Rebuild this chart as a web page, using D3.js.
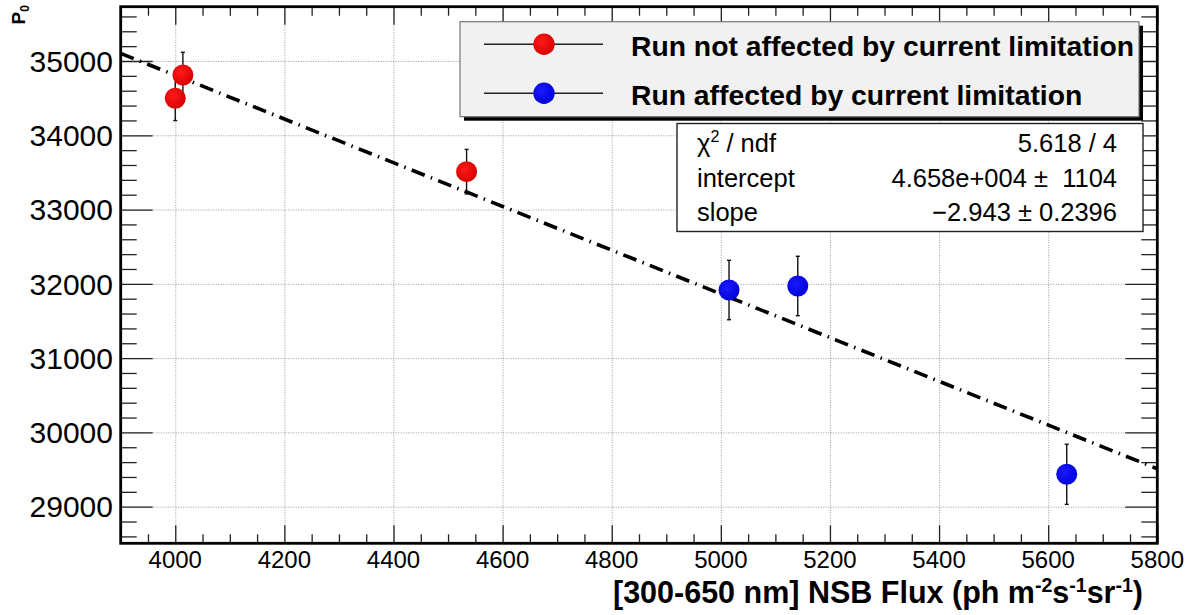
<!DOCTYPE html>
<html>
<head>
<meta charset="utf-8">
<script src="https://cdn.jsdelivr.net/npm/d3@7"></script>
<style>
  html, body { margin: 0; padding: 0; background: #fff; }
  svg { display: block; font-family: "Liberation Sans", Arial, Helvetica, sans-serif; }
</style>
</head>
<body>
<svg id="chart" width="1197" height="615"></svg>
<script>
// ---------------- data ----------------
const redX = [4000, 4014, 4534];
const redY = [34498, 34812, 33510];
const redErr = [300, 305, 300];

const blueX = [5015, 5141, 5634];
const blueY = [31917, 31971, 29436];
const blueErr = [400, 400, 405];

const fitIntercept = 46580;
const fitSlope = -2.943;
const fitRange = [3900, 5800];

const xMajorTicks = [4000, 4200, 4400, 4600, 4800, 5000, 5200, 5400, 5600, 5800];
const xMinorTicks = d3.range(3900, 5801, 50);
const yMajorTicks = [29000, 30000, 31000, 32000, 33000, 34000, 35000];
const yMinorTicks = d3.range(28600, 35701, 200);

const legendLabels = ["Run not affected by current limitation", "Run affected by current limitation"];
const legendColors = ["red", "blue"];

const statsNames = ["chi2", "intercept", "slope"];
const statsValues = ["5.618 / 4", "4.658e+004 \u00b1  1104", "\u22122.943 \u00b1 0.2396"];

// ---------------- layout ----------------
const svg = d3.select("#chart");
const L = 120.7, R = 1157.3, T = 6.7, B = 543.3;
const x = d3.scaleLinear().domain([3900, 5800]).range([L, R]);
const y = d3.scaleLinear().domain([28507, 35731]).range([B, T]);

// gradients for markers
const defs = svg.append("defs");
function grad(id, c0, c1) {
  const g = defs.append("radialGradient").attr("id", id).attr("cx", "40%").attr("cy", "38%").attr("r", "65%");
  g.append("stop").attr("offset", "0%").attr("stop-color", c0);
  g.append("stop").attr("offset", "100%").attr("stop-color", c1);
}
grad("gRed", "#ff1a1a", "#d40000");
grad("gBlue", "#1a1aff", "#0000d8");
const fillFor = { red: "url(#gRed)", blue: "url(#gBlue)" };

// ---------------- grid ----------------
const gridG = svg.append("g");
gridG.append("g").attr("transform", `translate(0,${B})`)
  .call(d3.axisBottom(x).tickValues(xMajorTicks).tickSize(-(B - T)).tickFormat(""))
  .call(g => g.select(".domain").remove())
  .call(g => g.selectAll("line").attr("stroke", "#9a9a9a").attr("stroke-width", 1).attr("stroke-dasharray", "1,1.5"));
gridG.append("g").attr("transform", `translate(${L},0)`)
  .call(d3.axisLeft(y).tickValues(yMajorTicks).tickSize(-(R - L)).tickFormat(""))
  .call(g => g.select(".domain").remove())
  .call(g => g.selectAll("line").attr("stroke", "#9a9a9a").attr("stroke-width", 1).attr("stroke-dasharray", "1,1.5"));

// ---------------- ticks ----------------
function styleTicks(g) {
  g.select(".domain").remove();
  g.selectAll("line").attr("stroke", "#222").attr("stroke-width", 1.3);
}
const xMinorOnly = xMinorTicks.filter(v => !xMajorTicks.includes(v));
const yMinorOnly = yMinorTicks.filter(v => !yMajorTicks.includes(v) && v > 28507 && v < 35731);
// bottom
svg.append("g").attr("transform", `translate(0,${B})`)
  .call(d3.axisBottom(x).tickValues(xMajorTicks).tickSize(-18).tickFormat("")).call(styleTicks);
svg.append("g").attr("transform", `translate(0,${B})`)
  .call(d3.axisBottom(x).tickValues(xMinorOnly).tickSize(-9).tickFormat("")).call(styleTicks);
// top
svg.append("g").attr("transform", `translate(0,${T})`)
  .call(d3.axisTop(x).tickValues(xMajorTicks).tickSize(-18).tickFormat("")).call(styleTicks);
svg.append("g").attr("transform", `translate(0,${T})`)
  .call(d3.axisTop(x).tickValues(xMinorOnly).tickSize(-9).tickFormat("")).call(styleTicks);
// left
svg.append("g").attr("transform", `translate(${L},0)`)
  .call(d3.axisLeft(y).tickValues(yMajorTicks).tickSize(-32).tickFormat("")).call(styleTicks);
svg.append("g").attr("transform", `translate(${L},0)`)
  .call(d3.axisLeft(y).tickValues(yMinorOnly).tickSize(-16).tickFormat("")).call(styleTicks);
// right
svg.append("g").attr("transform", `translate(${R},0)`)
  .call(d3.axisRight(y).tickValues(yMajorTicks).tickSize(-32).tickFormat("")).call(styleTicks);
svg.append("g").attr("transform", `translate(${R},0)`)
  .call(d3.axisRight(y).tickValues(yMinorOnly).tickSize(-16).tickFormat("")).call(styleTicks);

// tick labels
svg.append("g").selectAll("text").data(xMajorTicks).join("text")
  .attr("x", d => x(d)).attr("y", 568)
  .attr("text-anchor", "middle").attr("font-size", 24).attr("fill", "#000")
  .text(d => d);
svg.append("g").selectAll("text").data(yMajorTicks).join("text")
  .attr("x", 113).attr("y", d => y(d)).attr("dy", "0.36em")
  .attr("text-anchor", "end").attr("font-size", 30).attr("fill", "#000")
  .text(d => d);

// axis titles
const xt = svg.append("text").attr("x", 1143).attr("y", 603)
  .attr("text-anchor", "end").attr("font-size", 30.5).attr("font-weight", "bold");
xt.append("tspan").text("[300-650 nm] NSB Flux (ph m");
xt.append("tspan").attr("font-size", 19.5).attr("dy", -11).text("-2");
xt.append("tspan").attr("dy", 11).text("s");
xt.append("tspan").attr("font-size", 19.5).attr("dy", -11).text("-1");
xt.append("tspan").attr("dy", 11).text("sr");
xt.append("tspan").attr("font-size", 19.5).attr("dy", -11).text("-1");
xt.append("tspan").attr("dy", 11).text(")");

const yt = svg.append("text").attr("transform", "translate(25,5) rotate(-90)")
  .attr("text-anchor", "end").attr("font-size", 19).attr("font-weight", "bold");
yt.append("tspan").text("P");
yt.append("tspan").attr("font-size", 12).attr("dy", 4).text("0");

// ---------------- fit line ----------------
svg.append("line")
  .attr("x1", x(fitRange[0])).attr("y1", y(fitIntercept + fitSlope * fitRange[0]))
  .attr("x2", x(fitRange[1])).attr("y2", y(fitIntercept + fitSlope * fitRange[1]))
  .attr("stroke", "#000").attr("stroke-width", 3.6)
  .attr("stroke-dasharray", "14,6.5,1.5,6.5");

// ---------------- points ----------------
function drawSeries(xs, ys, es, color) {
  const g = svg.append("g");
  const data = xs.map((v, i) => ({ x: v, y: ys[i], e: es[i] }));
  g.selectAll("line.err").data(data).join("line").attr("class", "err")
    .attr("x1", d => x(d.x)).attr("x2", d => x(d.x))
    .attr("y1", d => y(d.y - d.e)).attr("y2", d => y(d.y + d.e))
    .attr("stroke", "#111").attr("stroke-width", 1.4);
  g.selectAll("line.capT").data(data).join("line").attr("class", "capT")
    .attr("x1", d => x(d.x) - 2).attr("x2", d => x(d.x) + 2)
    .attr("y1", d => y(d.y + d.e)).attr("y2", d => y(d.y + d.e))
    .attr("stroke", "#111").attr("stroke-width", 1.4);
  g.selectAll("line.capB").data(data).join("line").attr("class", "capB")
    .attr("x1", d => x(d.x) - 2).attr("x2", d => x(d.x) + 2)
    .attr("y1", d => y(d.y - d.e)).attr("y2", d => y(d.y - d.e))
    .attr("stroke", "#111").attr("stroke-width", 1.4);
  g.selectAll("circle").data(data).join("circle")
    .attr("cx", d => x(d.x)).attr("cy", d => y(d.y)).attr("r", 10.5)
    .attr("fill", fillFor[color]);
}
drawSeries(redX, redY, redErr, "red");
drawSeries(blueX, blueY, blueErr, "blue");

// ---------------- frame ----------------
svg.append("rect").attr("x", L).attr("y", T).attr("width", R - L).attr("height", B - T)
  .attr("fill", "none").attr("stroke", "#000").attr("stroke-width", 2.8);

// ---------------- legend ----------------
const lg = svg.append("g");
lg.append("rect").attr("x", 464).attr("y", 25.7).attr("width", 679).attr("height", 95).attr("fill", "#000");
lg.append("rect").attr("x", 460).attr("y", 21.7).attr("width", 679).attr("height", 95)
  .attr("fill", "#f1f1f1").attr("stroke", "#777").attr("stroke-width", 1.2);
const legRows = [44.3, 93.3];
legendLabels.forEach((lab, i) => {
  lg.append("line").attr("x1", 484).attr("x2", 603).attr("y1", legRows[i]).attr("y2", legRows[i])
    .attr("stroke", "#222").attr("stroke-width", 1.5);
  lg.append("circle").attr("cx", 544).attr("cy", legRows[i]).attr("r", 10.7).attr("fill", fillFor[legendColors[i]]);
  lg.append("text").attr("x", 631).attr("y", legRows[i] + 11.5).attr("font-size", 28.3).attr("font-weight", "bold")
    .text(lab);
});

// ---------------- stats box ----------------
const sg = svg.append("g");
sg.append("rect").attr("x", 677).attr("y", 123.5).attr("width", 466).attr("height", 108)
  .attr("fill", "#fff").attr("stroke", "#222").attr("stroke-width", 1.4);
const statBase = [152, 186.5, 221];
statsNames.forEach((n, i) => {
  const t = sg.append("text").attr("x", 697).attr("y", statBase[i]).attr("font-size", 25.5);
  if (n === "chi2") {
    t.append("tspan").text("\u03c7");
    t.append("tspan").attr("font-size", 16).attr("dy", -10).text("2");
    t.append("tspan").attr("dy", 10).text(" / ndf");
  } else {
    t.text(n);
  }
  sg.append("text").attr("x", 1117).attr("y", statBase[i]).attr("font-size", 25.5)
    .attr("text-anchor", "end").attr("xml:space", "preserve").style("white-space", "pre").text(statsValues[i]);
});
</script>
</body>
</html>
